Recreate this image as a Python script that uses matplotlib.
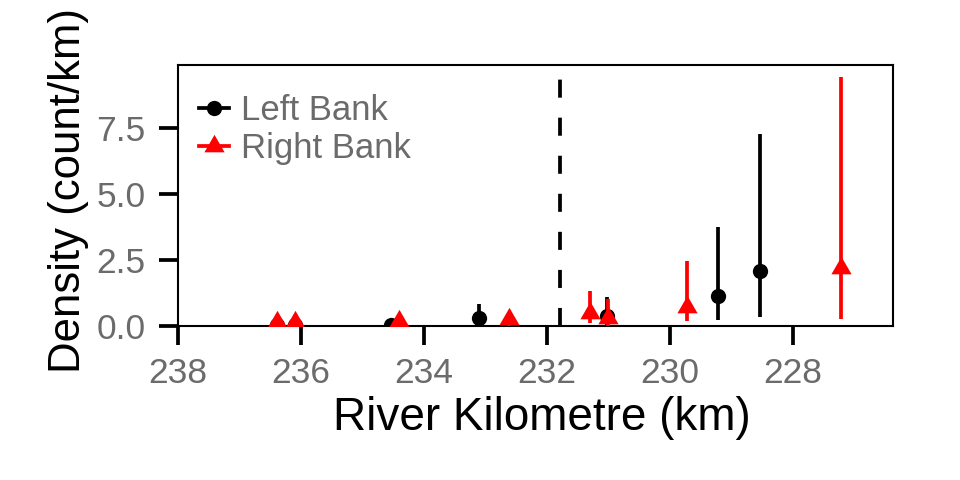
import matplotlib
matplotlib.use("Agg")
import matplotlib.pyplot as plt
from matplotlib.lines import Line2D
import numpy as np

plt.rcParams['font.family'] = ['Liberation Sans', 'DejaVu Sans']
plt.rcParams['lines.scale_dashes'] = False

# Data
left_km = [236.39, 236.10, 234.53, 233.11, 231.02, 229.22, 228.53]
left_density = [0.03, 0.03, 0.03, 0.31, 0.38, 1.15, 2.07]
left_lower = [0.0, 0.0, 0.0, 0.0, 0.0, 0.21, 0.33]
left_upper = [0.05, 0.05, 0.05, 0.84, 1.10, 3.76, 7.26]

right_km = [236.39, 236.10, 234.41, 232.61, 231.30, 231.00, 229.72, 227.22]
right_density = [0.15, 0.15, 0.20, 0.25, 0.48, 0.32, 0.73, 2.20]
right_lower = [0.0, 0.0, 0.0, 0.0, 0.12, 0.0, 0.18, 0.25]
right_upper = [0.20, 0.20, 0.25, 0.30, 1.31, 1.03, 2.44, 9.42]

boundary_km = 231.79
x_ticks = [238, 236, 234, 232, 230, 228]
y_ticks = [0.0, 2.5, 5.0, 7.5]
y_tick_labels = ["0.0", "2.5", "5.0", "7.5"]
series_names = ["Left Bank", "Right Bank"]
colors = ["black", "#FF0000"]

tri = [(-1.0, -0.577), (1.0, -0.577), (0.0, 1.155), (-1.0, -0.577)]

fig = plt.figure(figsize=(9.6, 4.8), dpi=100)
ax = fig.add_axes([178/960, 1-326/480, (893-178)/960, (326-65)/480])

lw_bar = 2.7
ax.vlines(left_km, left_lower, left_upper, color=colors[0], lw=lw_bar, zorder=2)
ax.plot(left_km, left_density, ls='none', marker='o', ms=11, color=colors[0],
        markeredgewidth=0, zorder=3)
ax.vlines(right_km, right_lower, right_upper, color=colors[1], lw=lw_bar, zorder=4)
ax.plot(right_km, right_density, ls='none', marker=tri, ms=16.8, color=colors[1],
        markeredgewidth=0, zorder=5)

ax.axvline(boundary_km, color='black', lw=2.7, dashes=(13, 14.4), zorder=1)

ax.set_xlim(237.97, 226.37)
ax.set_ylim(0, 9.87)

ax.set_xticks(x_ticks)
ax.set_xticklabels([str(t) for t in x_ticks])
ax.set_yticks(y_ticks)
ax.set_yticklabels(y_tick_labels)

tick_color = '#6B6B6B'
ax.tick_params(axis='both', which='major', length=13.5, width=2.7, color='black',
               labelcolor=tick_color, labelsize=25.5)
ax.tick_params(axis='x', pad=9)
ax.tick_params(axis='y', pad=10)

for s in ax.spines.values():
    s.set_linewidth(1.5)

ax.set_xlabel("River Kilometre (km)", fontsize=33, color='black')
ax.set_ylabel("Density (count/km)", fontsize=31.5, color='black')
ax.xaxis.set_label_coords(0.509, -0.27)
ax.yaxis.set_label_coords(-0.124, 0.52)

handles = [
    Line2D([], [], color=colors[0], lw=2.7, marker='o', ms=11, markeredgewidth=0),
    Line2D([], [], color=colors[1], lw=2.7, marker=tri, ms=16.8, markeredgewidth=0),
]
leg = ax.legend(handles, series_names, loc='upper left', bbox_to_anchor=(-0.004, 0.982),
                frameon=False, fontsize=25, handlelength=0.85, handletextpad=0.36,
                labelspacing=0.15, borderaxespad=0.3)
for t in leg.get_texts():
    t.set_color(tick_color)

fig.savefig("out.png", dpi=100)
